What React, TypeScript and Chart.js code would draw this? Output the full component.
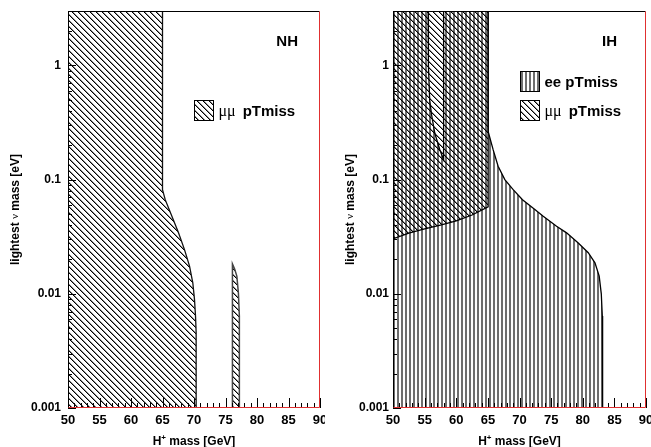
import React, { useEffect, useRef } from "react";
import { Chart, registerables } from "chart.js";

Chart.register(...registerables);

// ---------- axes ----------
const X_MIN = 50;
const X_MAX = 90;
const X_STEP = 5;
const Y_MIN = 0.001;
const Y_MAX = 3;
const Y_TICKS = [0.001, 0.01, 0.1, 1];
const Y_TICK_LABELS = ["0.001", "0.01", "0.1", "1"];

// ---------- NH panel: μμ pTmiss excluded regions ----------
const NH_MUMU_X = [50, 50, 65.0, 65.0, 65.43, 66.49, 67.54, 68.49, 69.29, 69.81, 70.08, 70.24, 70.34, 70.34, 50];
const NH_MUMU_Y = [0.001, 3, 3, 0.0817, 0.0668, 0.0478, 0.0342, 0.0244, 0.0175, 0.0125, 0.0089, 0.0064, 0.0046, 0.001, 0.001];
const NH_ISLAND_X = [76.1, 76.1, 76.45, 76.8, 77.05, 77.2, 77.2, 76.1];
const NH_ISLAND_Y = [0.001, 0.0183, 0.0165, 0.0143, 0.0101, 0.0064, 0.001, 0.001];

// ---------- IH panel: ee pTmiss excluded region ----------
const IH_EE_X = [50, 50, 55.55, 55.6, 55.8, 56.1, 56.6, 57.4, 58.0, 58.0, 65.04, 65.04, 65.83, 66.62, 67.68, 69.0, 70.47, 72.43, 73.75, 75.86, 77.44, 79.29, 80.87, 81.93, 82.6, 82.93, 83.09, 83.14, 83.14, 50];
const IH_EE_Y = [0.001, 3, 3, 1, 0.5, 0.37, 0.256, 0.183, 0.15, 3, 3, 0.265, 0.183, 0.131, 0.1, 0.0817, 0.0668, 0.0547, 0.0478, 0.0391, 0.0342, 0.0279, 0.0229, 0.0187, 0.0143, 0.01, 0.0064, 0.0046, 0.001, 0.001];

// ---------- IH panel: μμ pTmiss excluded region ----------
const IH_MUMU_X = [50, 50, 52.5, 55, 57.5, 60, 62.5, 65.04, 65.04, 50];
const IH_MUMU_Y = [3, 0.0303, 0.034, 0.037, 0.040, 0.0435, 0.049, 0.0577, 3, 3];

const SANS = "'Liberation Sans', Arial, Helvetica, sans-serif";
const SERIF = "'Liberation Serif', 'Times New Roman', serif";

function pts(xs: number[], ys: number[]) {
  return xs.map((x, i) => ({ x, y: ys[i] }));
}

function diagPattern(): CanvasPattern {
  const s = 6;
  const c = document.createElement("canvas");
  c.width = s;
  c.height = s;
  const g = c.getContext("2d")!;
  for (let i = 0; i < s; i++) {
    g.fillStyle = "rgba(0,0,0,1)";
    g.fillRect(i, i, 1, 1);
    g.fillStyle = "rgba(0,0,0,0.45)";
    g.fillRect((i + 1) % s, i, 1, 1);
  }
  return g.createPattern(c, "repeat")!;
}

function vertPattern(): CanvasPattern {
  const c = document.createElement("canvas");
  c.width = 4;
  c.height = 4;
  const g = c.getContext("2d")!;
  g.fillStyle = "#6e6e6e";
  g.fillRect(0, 0, 2, 4);
  return g.createPattern(c, "repeat")!;
}

type LegendItem = { pattern: CanvasPattern; prefix: string; text: string; dy: number };
type PanelOpts = {
  label: string;
  labelRight: number;
  legendDx: number;
  legend: LegendItem[];
  yTitleX: number;
};

function drawPanel(chart: any, p: PanelOpts) {
  const { ctx, chartArea: a } = chart;
  const x = chart.scales.x;
  const y = chart.scales.y;
  ctx.save();
  // x ticks (inside, pointing up)
  ctx.strokeStyle = "#000";
  ctx.lineWidth = 1;
  for (let v = X_MIN; v <= X_MAX; v += 1) {
    const px = Math.round(x.getPixelForValue(v)) + 0.5;
    const len = v % X_STEP === 0 ? 10 : 5;
    ctx.beginPath();
    ctx.moveTo(px, a.bottom);
    ctx.lineTo(px, a.bottom - len);
    ctx.stroke();
  }
  // y ticks (inside, pointing right)
  for (let k = -3; k <= 0; k++) {
    for (let m = 1; m <= 9; m++) {
      const v = m * Math.pow(10, k);
      if (v > Y_MAX) continue;
      const py = Math.round(y.getPixelForValue(v)) + 0.5;
      const len = m === 1 ? 8 : 4;
      ctx.beginPath();
      ctx.moveTo(a.left, py);
      ctx.lineTo(a.left + len, py);
      ctx.stroke();
    }
  }
  // frame
  const L = Math.round(a.left) + 0.5;
  const R = Math.round(a.right) - 0.5;
  const T = Math.round(a.top) + 0.5;
  const B = Math.round(a.bottom) - 0.5;
  ctx.strokeStyle = "#000";
  ctx.lineWidth = 1;
  ctx.beginPath();
  ctx.moveTo(L, B);
  ctx.lineTo(L, T);
  ctx.lineTo(R, T);
  ctx.stroke();
  ctx.strokeStyle = "#e03030";
  ctx.beginPath();
  ctx.moveTo(R, T);
  ctx.lineTo(R, B);
  ctx.lineTo(L, B);
  ctx.stroke();

  // panel label
  ctx.fillStyle = "#000";
  ctx.font = `bold 15px ${SANS}`;
  ctx.textAlign = "right";
  ctx.textBaseline = "middle";
  ctx.fillText(p.label, a.right - p.labelRight, a.top + 31);

  // legend
  for (const it of p.legend) {
    const bx = Math.round(a.left + p.legendDx) + 0.5;
    const by = Math.round(a.top + it.dy) + 0.5;
    const bw = 19;
    const bh = 20;
    ctx.fillStyle = "#fff";
    ctx.fillRect(bx, by, bw, bh);
    ctx.fillStyle = it.pattern;
    ctx.fillRect(bx, by, bw, bh);
    ctx.strokeStyle = "#000";
    ctx.lineWidth = 1;
    ctx.strokeRect(bx, by, bw, bh);
    ctx.fillStyle = "#000";
    ctx.textAlign = "left";
    ctx.textBaseline = "middle";
    let tx = bx + bw + 5;
    const ty = by + bh / 2 + 1;
    if (it.prefix) {
      ctx.font = `16px ${SERIF}`;
      ctx.fillText(it.prefix, tx, ty);
      tx += ctx.measureText(it.prefix).width + 7;
      ctx.font = `bold 15px ${SANS}`;
      ctx.fillText(it.text, tx, ty);
    } else {
      ctx.font = `bold 15px ${SANS}`;
      ctx.fillText(it.text, tx, ty);
    }
  }

  // x title: H+ mass [GeV]
  ctx.fillStyle = "#000";
  ctx.textBaseline = "alphabetic";
  ctx.textAlign = "left";
  const fontMain = `bold 12px ${SANS}`;
  const fontSup = `bold 8px ${SANS}`;
  ctx.font = fontMain;
  const wH = ctx.measureText("H").width;
  const wRest = ctx.measureText(" mass [GeV]").width;
  ctx.font = fontSup;
  const wPlus = ctx.measureText("+").width;
  const total = wH + wPlus + wRest;
  let xt = (a.left + a.right) / 2 - total / 2;
  const yb = 445;
  ctx.font = fontMain;
  ctx.fillText("H", xt, yb);
  xt += wH;
  ctx.font = fontSup;
  ctx.fillText("+", xt, yb - 5);
  xt += wPlus;
  ctx.font = fontMain;
  ctx.fillText(" mass [GeV]", xt, yb);

  // y title: lightest ν mass [eV]
  ctx.save();
  ctx.translate(p.yTitleX, (a.top + a.bottom) / 2);
  ctx.rotate(-Math.PI / 2);
  ctx.textBaseline = "middle";
  const parts: [string, string][] = [
    ["lightest ", `bold 12px ${SANS}`],
    ["\u03bd", `11px ${SERIF}`],
    [" mass [eV]", `bold 12px ${SANS}`],
  ];
  let tw = 0;
  for (const [s, f] of parts) {
    ctx.font = f;
    tw += ctx.measureText(s).width;
  }
  let cx = -tw / 2;
  for (const [s, f] of parts) {
    ctx.font = f;
    ctx.fillText(s, cx, 0);
    cx += ctx.measureText(s).width;
  }
  ctx.restore();

  ctx.restore();
}

function makeConfig(datasets: any[], panel: PanelOpts, yPad: number, yWidth: number): any {
  return {
    type: "line",
    data: { datasets },
    options: {
      animation: false,
      responsive: false,
      events: [],
      layout: { padding: { top: 11, right: 5, left: 0, bottom: 0 } },
      plugins: { legend: { display: false }, tooltip: { enabled: false } },
      elements: { point: { radius: 0 }, line: { tension: 0 } },
      scales: {
        x: {
          type: "linear",
          min: X_MIN,
          max: X_MAX,
          grid: { display: false, drawTicks: false, tickLength: 0 },
          border: { display: false },
          ticks: {
            stepSize: X_STEP,
            autoSkip: false,
            maxRotation: 0,
            minRotation: 0,
            padding: 5,
            color: "#000",
            font: { family: SANS, size: 13, weight: "bold" },
            callback: (v: any) => String(v),
          },
          afterFit: (s: any) => {
            s.height = 39;
            s.paddingLeft = 0;
            s.paddingRight = 0;
          },
        },
        y: {
          type: "logarithmic",
          min: Y_MIN,
          max: Y_MAX,
          grid: { display: false, drawTicks: false, tickLength: 0 },
          border: { display: false },
          afterBuildTicks: (s: any) => {
            s.ticks = Y_TICKS.map((v) => ({ value: v }));
          },
          ticks: {
            padding: yPad,
            color: "#000",
            font: { family: SANS, size: 12, weight: "bold" },
            callback: (v: any) => {
              const i = Y_TICKS.indexOf(v);
              return i >= 0 ? Y_TICK_LABELS[i] : "";
            },
          },
          afterFit: (s: any) => {
            s.width = yWidth;
            s.paddingTop = 0;
            s.paddingBottom = 0;
          },
        },
      },
    },
    plugins: [
      {
        id: "panelDecor",
        afterDraw: (chart: any) => drawPanel(chart, panel),
      },
    ],
  };
}

export default function App() {
  const leftRef = useRef<HTMLCanvasElement>(null);
  const rightRef = useRef<HTMLCanvasElement>(null);

  useEffect(() => {
    document.body.style.margin = "0";
    const diag = diagPattern();
    const vert = vertPattern();

    const leftDatasets = [
      {
        label: "μμ pTmiss",
        data: pts(NH_MUMU_X, NH_MUMU_Y),
        fill: "shape",
        backgroundColor: diag,
        borderColor: "#111",
        borderWidth: 1.3,
        clip: 0,
      },
      {
        label: "μμ pTmiss island",
        data: pts(NH_ISLAND_X, NH_ISLAND_Y),
        fill: "shape",
        backgroundColor: diag,
        borderColor: "#444",
        borderWidth: 1.5,
        clip: 0,
      },
    ];
    const rightDatasets = [
      {
        label: "μμ pTmiss",
        data: pts(IH_MUMU_X, IH_MUMU_Y),
        fill: "shape",
        backgroundColor: diag,
        borderColor: "#000",
        borderWidth: 1.3,
        clip: 0,
      },
      {
        label: "ee pTmiss",
        data: pts(IH_EE_X, IH_EE_Y),
        fill: "shape",
        backgroundColor: vert,
        borderColor: "#000",
        borderWidth: 1.3,
        clip: 0,
      },
    ];

    const c1 = new Chart(
      leftRef.current!,
      makeConfig(
        leftDatasets,
        {
          label: "NH",
          labelRight: 22,
          legendDx: 126,
          legend: [{ pattern: diag, prefix: "μμ", text: "pTmiss", dy: 89 }],
          yTitleX: 15.5,
        },
        7,
        68
      )
    );
    const c2 = new Chart(
      rightRef.current!,
      makeConfig(
        rightDatasets,
        {
          label: "IH",
          labelRight: 29,
          legendDx: 127,
          legend: [
            { pattern: vert, prefix: "", text: "ee pTmiss", dy: 60 },
            { pattern: diag, prefix: "μμ", text: "pTmiss", dy: 89 },
          ],
          yTitleX: 25.5,
        },
        4,
        68
      )
    );
    return () => {
      c1.destroy();
      c2.destroy();
    };
  }, []);

  return (
    <div style={{ position: "fixed", left: 0, top: 0, width: 651, height: 447, background: "#fff", overflow: "hidden" }}>
      <canvas ref={leftRef} width={325} height={447} style={{ position: "absolute", left: 0, top: 0 }} />
      <canvas ref={rightRef} width={326} height={447} style={{ position: "absolute", left: 325, top: 0 }} />
    </div>
  );
}
